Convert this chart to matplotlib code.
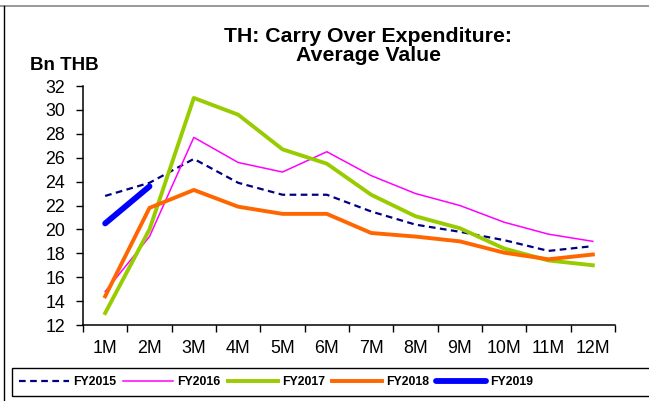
import matplotlib
matplotlib.use("Agg")
import matplotlib.pyplot as plt
from matplotlib.lines import Line2D
from matplotlib.patches import Rectangle

plt.rcParams['font.family'] = ['Liberation Sans', 'DejaVu Sans']

months = ['1M', '2M', '3M', '4M', '5M', '6M', '7M', '8M', '9M', '10M', '11M', '12M']
fy2015 = [22.8, 23.9, 25.9, 23.9, 22.9, 22.9, 21.5, 20.4, 19.8, 19.1, 18.2, 18.6]
fy2016 = [14.8, 19.4, 27.7, 25.6, 24.8, 26.5, 24.5, 23.0, 22.0, 20.6, 19.6, 19.0]
fy2017 = [13.0, 20.0, 31.0, 29.6, 26.7, 25.5, 22.9, 21.1, 20.1, 18.4, 17.4, 17.0]
fy2018 = [14.4, 21.8, 23.3, 21.9, 21.3, 21.3, 19.7, 19.4, 19.0, 18.05, 17.5, 17.9]
fy2019 = [20.5, 23.6]

fig = plt.figure(figsize=(6.49, 4.01), dpi=100)
ax = fig.add_axes([83/649, 1 - 325/401, 532/649, (325 - 86)/401])

x = list(range(1, len(months) + 1))
ax.plot(x, fy2015, color='#000080', lw=1.6, ls=(0, (3, 2)), label='FY2015')
ax.plot(x, fy2016, color='#FF00FF', lw=1.1, label='FY2016')
ax.plot(x, fy2017, color='#99CC00', lw=2.8, label='FY2017')
ax.plot(x, fy2018, color='#FF6600', lw=2.8, label='FY2018')
ax.plot(x[:len(fy2019)], fy2019, color='#0000FF', lw=4.2, solid_capstyle='round', label='FY2019')

ax.set_xlim(0.5, 12.5)
ax.set_ylim(12, 32)
ax.set_yticks(range(12, 33, 2))
ax.set_xticks(x)
ax.set_xticklabels(months)
ax.set_xticks([i + 0.5 for i in range(0, 13)], minor=True)
ax.tick_params(axis='x', which='major', length=0, pad=11, labelsize=12.8)
ax.tick_params(axis='x', which='minor', length=5, width=1, direction='out')
ax.tick_params(axis='y', length=5, width=1, direction='out', labelsize=12.8, pad=8)
for s in ['top', 'right']:
    ax.spines[s].set_visible(False)
for s in ['left', 'bottom']:
    ax.spines[s].set_linewidth(1.1)

fig.text(368/649, 1 - 46/401, 'TH: Carry Over Expenditure:\nAverage Value',
         ha='center', va='center', fontsize=15.3, fontweight='bold', linespacing=1.05)
fig.text(30/649, 1 - 65/401, 'Bn THB', ha='left', va='center', fontsize=13.5, fontweight='bold')

leg = fig.legend(loc='center left', bbox_to_anchor=(19/649, 1 - 382/401), ncol=5,
                 frameon=False, prop={'weight': 'bold', 'size': 8.8}, handlelength=4.1,
                 handletextpad=0.33, columnspacing=0.57, borderpad=0, borderaxespad=0)
fig.add_artist(Rectangle((12/649, 1 - 396/401), 700/649, 28/401, transform=fig.transFigure,
                         fill=False, edgecolor='black', lw=1.0))

# outer frame
fig.add_artist(Line2D([0, 1], [1 - 6/401, 1 - 6/401], color='#888888', lw=1.2))
fig.add_artist(Line2D([4/649, 4/649], [0, 1 - 6/401], color='black', lw=1.0))

fig.savefig('out.png', dpi=100)
